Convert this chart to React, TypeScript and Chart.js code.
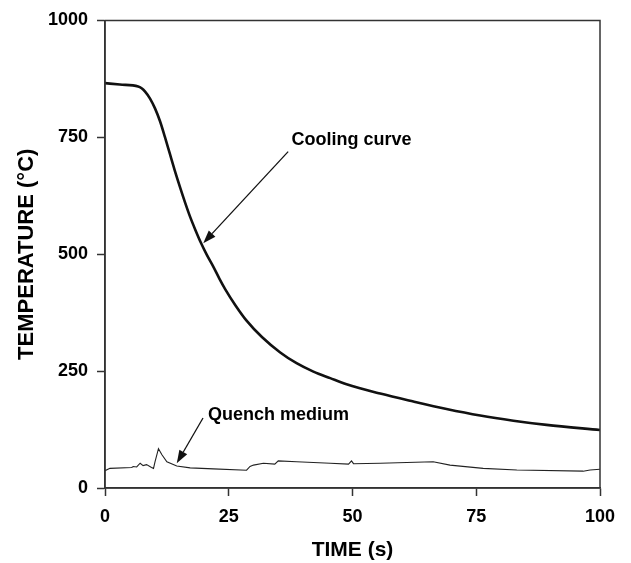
import React, { useEffect, useRef } from "react";
import { Chart, registerables } from "chart.js";

Chart.register(...registerables);

// Cooling curve (time s, temperature °C)
const coolTime = [0, 3, 6.7, 7.4, 8.1, 9.1, 10.1, 11.1, 12.1, 13.1, 14.1, 15.2, 16.2, 17.2, 18.3, 19.4, 20.6, 21.9, 23.1, 24.3, 26.4, 28.6, 31.7, 35.4, 38.7, 42.1, 45.5, 48.8, 55.6, 62.3, 69, 75.8, 82.5, 89.2, 100];
const coolTemp = [866, 863, 859, 855, 848, 833, 812, 785, 751, 715, 679, 642, 610, 580, 551, 524, 498, 473, 448, 425, 390, 358, 323, 290, 267, 249, 235, 222, 202, 185, 169, 155, 144, 135, 124];

// Quench medium (time s, temperature °C)
const quenchTime = [0, 1, 5.4, 5.7, 6.4, 7.1, 7.7, 8.4, 9.4, 9.8, 10.1, 10.8, 11.5, 12.5, 14.5, 17.2, 21.9, 28.6, 29.3, 30, 32, 34.3, 35, 38.7, 45.5, 49.2, 49.8, 50.2, 55.6, 66.3, 69.7, 76.4, 83.2, 96.6, 98, 100];
const quenchTemp = [37, 42, 44, 46, 45, 53, 48, 50, 44, 42, 56, 84, 71, 56, 47, 43, 41, 38, 46, 49, 53, 51, 58, 56, 53, 51, 58, 52, 53, 56, 49, 42, 38.5, 36, 38.5, 40];

// Axis ticks
const xTicks = [0, 25, 50, 75, 100];
const yTicks = [0, 250, 500, 750, 1000];

// Annotations in data space: label position, arrow start, arrow tip
const annLabels = ["Cooling curve", "Quench medium"];
const annTextX = [37.7, 20.8];
const annTextY = [745, 156];
const annFromX = [37.0, 19.8];
const annFromY = [719.6, 149.8];
const annToX = [19.85, 14.5];
const annToY = [523.6, 52.9];

const FONT = "'Liberation Sans', Arial, Helvetica, sans-serif";
const AXIS = "#333";

const framePlugin = {
  id: "frameAndNotes",
  afterDraw(chart: any) {
    const { ctx, chartArea, scales } = chart;
    ctx.save();
    ctx.strokeStyle = AXIS;
    ctx.lineWidth = 1.5;
    ctx.strokeRect(chartArea.left, chartArea.top, chartArea.right - chartArea.left, chartArea.bottom - chartArea.top);
    const xs = scales.x;
    const ys = scales.y;
    for (let i = 0; i < annLabels.length; i++) {
      const tx = xs.getPixelForValue(annTextX[i]);
      const ty = ys.getPixelForValue(annTextY[i]);
      ctx.fillStyle = "#000";
      ctx.font = `bold 18px ${FONT}`;
      ctx.textAlign = "left";
      ctx.textBaseline = "middle";
      ctx.fillText(annLabels[i], tx, ty);
      const x1 = xs.getPixelForValue(annFromX[i]);
      const y1 = ys.getPixelForValue(annFromY[i]);
      const x2 = xs.getPixelForValue(annToX[i]);
      const y2 = ys.getPixelForValue(annToY[i]);
      const ang = Math.atan2(y2 - y1, x2 - x1);
      const headLen = 13;
      const headW = 4.5;
      const bx = x2 - headLen * Math.cos(ang);
      const by = y2 - headLen * Math.sin(ang);
      ctx.strokeStyle = "#111";
      ctx.lineWidth = 1.3;
      ctx.beginPath();
      ctx.moveTo(x1, y1);
      ctx.lineTo(bx, by);
      ctx.stroke();
      ctx.fillStyle = "#111";
      ctx.beginPath();
      ctx.moveTo(x2, y2);
      ctx.lineTo(bx + headW * Math.sin(ang), by - headW * Math.cos(ang));
      ctx.lineTo(bx - headW * Math.sin(ang), by + headW * Math.cos(ang));
      ctx.closePath();
      ctx.fill();
    }
    ctx.restore();
  },
};

export default function App() {
  const ref = useRef<HTMLCanvasElement | null>(null);
  useEffect(() => {
    if (!ref.current) return;
    const cooling = coolTime.map((t, i) => ({ x: t, y: coolTemp[i] }));
    const quench = quenchTime.map((t, i) => ({ x: t, y: quenchTemp[i] }));
    const chart = new Chart(ref.current, {
      type: "line",
      data: {
        datasets: [
          {
            label: "Cooling curve",
            data: cooling,
            borderColor: "#111",
            borderWidth: 2.6,
            pointRadius: 0,
            cubicInterpolationMode: "monotone",
            fill: false,
          },
          {
            label: "Quench medium",
            data: quench,
            borderColor: "#222",
            borderWidth: 1.1,
            pointRadius: 0,
            tension: 0,
            fill: false,
          },
        ],
      },
      options: {
        animation: false,
        responsive: false,
        events: [],
        layout: { padding: { left: 0, top: 20.5, right: 31, bottom: 0 } },
        plugins: { legend: { display: false }, tooltip: { enabled: false } },
        scales: {
          x: {
            type: "linear",
            min: 0,
            max: 100,
            afterFit: (s: any) => { s.height = 75; },
            afterBuildTicks: (s: any) => { s.ticks = xTicks.map((v) => ({ value: v })); },
            ticks: {
              color: "#000",
              padding: 10,
              font: { family: FONT, size: 18, weight: "bold" },
              callback: (v: any) => String(v),
            },
            grid: { drawOnChartArea: false, drawTicks: true, tickLength: 8, tickColor: AXIS, tickWidth: 1.5 },
            border: { display: true, color: AXIS, width: 1.5 },
            title: {
              display: true,
              text: "TIME (s)",
              color: "#000",
              font: { family: FONT, size: 21, weight: "bold" },
              padding: { top: 0, bottom: 0 },
            },
          },
          y: {
            type: "linear",
            min: 0,
            max: 1000,
            afterFit: (s: any) => { s.width = 105; },
            afterBuildTicks: (s: any) => { s.ticks = yTicks.map((v) => ({ value: v })); },
            ticks: {
              color: "#000",
              padding: 9,
              font: { family: FONT, size: 18, weight: "bold" },
              callback: (v: any) => String(v),
            },
            grid: { drawOnChartArea: false, drawTicks: true, tickLength: 8, tickColor: AXIS, tickWidth: 1.5 },
            border: { display: true, color: AXIS, width: 1.5 },
            title: {
              display: true,
              text: "TEMPERATURE (°C)",
              color: "#000",
              font: { family: FONT, size: 22, weight: "bold" },
              padding: { top: 14, bottom: 0 },
            },
          },
        },
      },
      plugins: [framePlugin],
    } as any);
    return () => chart.destroy();
  }, []);
  return (
    <div style={{ position: "absolute", left: 0, top: 0, width: 631, height: 563, background: "#fff" }}>
      <canvas ref={ref} width={631} height={563} style={{ display: "block" }} />
    </div>
  );
}
